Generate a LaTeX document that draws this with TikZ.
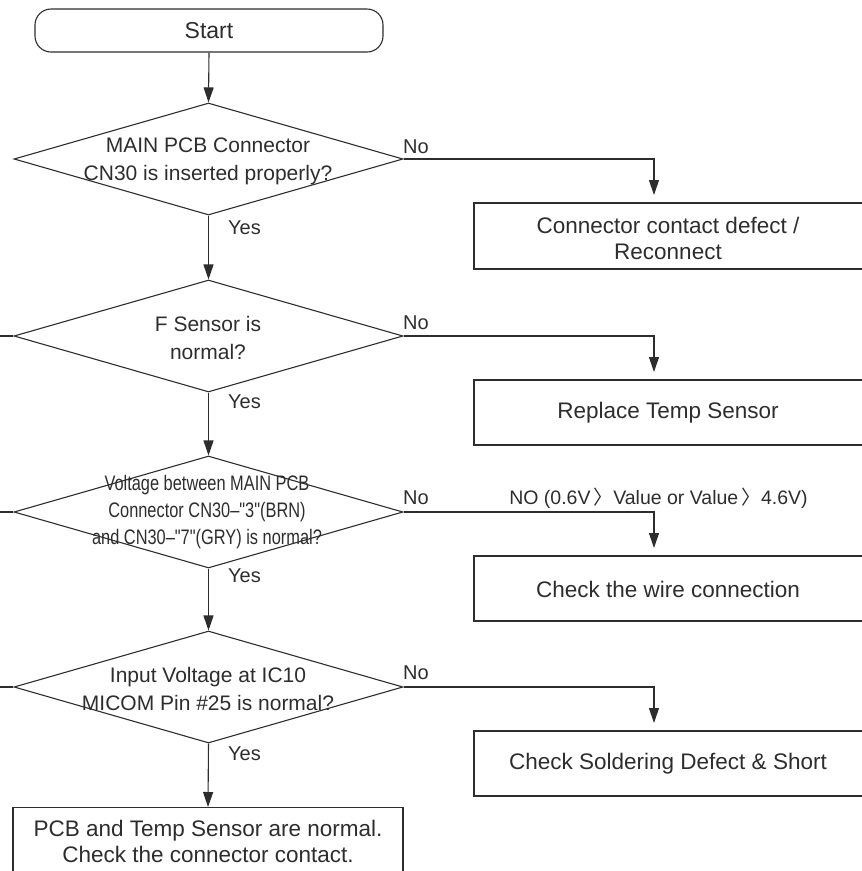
\documentclass[tikz,border=0pt]{standalone}
\usepackage{fontspec}
\setmainfont{Liberation Sans}
\newfontfamily\condfont[FakeStretch=0.78]{Liberation Sans}
\newfontfamily\cjkfont{Noto Sans CJK KR}
\usetikzlibrary{shapes.geometric,arrows.meta}
\definecolor{ink}{RGB}{45,45,45}
\begin{document}
\begin{tikzpicture}[x=1pt,y=-1pt,
  ln/.style={draw=ink, line width=1.1pt},
  arr/.style={ln, -{Triangle[length=15pt,width=10pt]}},
  dia/.style={diamond, draw=ink, line width=1.1pt, minimum width=389pt, minimum height=112pt, inner sep=0pt},
  proc/.style={rectangle, draw=ink, line width=1.1pt, inner sep=0pt},
  startbox/.style={rectangle, rounded corners=16pt, draw=ink, line width=1.1pt, minimum width=348pt, minimum height=43pt, text=ink, font=\fontsize{23}{27}\selectfont},
  txt/.style={text=ink, font=\fontsize{21}{28}\selectfont, align=center, inner sep=0pt},
  ctxt/.style={text=ink, font=\condfont\fontsize{21}{27}\selectfont, align=center, inner sep=0pt},
  btxt/.style={text=ink, font=\fontsize{22.5}{26}\selectfont, align=center, inner sep=0pt},
  lbl/.style={text=ink, font=\fontsize{20}{24}\selectfont, inner sep=0pt, anchor=west}
]
\useasboundingbox (0,0) rectangle (862,871);
\clip (0,0) rectangle (862,871);

% main column
\node[startbox] (start) at (209,30.5) {Start};
\node[dia] (d1) at (208.5,159) {};
\node[dia] (d2) at (208.5,336) {};
\node[dia] (d3) at (208.5,512) {};
\node[dia] (d4) at (208.5,687) {};
\node[proc, minimum width=390pt, minimum height=100pt, anchor=north] (fin) at (208,807) {};

\node[txt] (t1) at (208,161) {MAIN PCB Connector\\CN30 is inserted properly?};
\node[txt] (t2) at (208,337.5) {F Sensor is\\normal?};
\node[ctxt] (t3) at (207,512) {Voltage between MAIN PCB\\Connector CN30–"3"(BRN)\\and CN30–"7"(GRY) is normal?};
\node[txt] (t4) at (208,688.5) {Input Voltage at IC10\\MICOM Pin \#25 is normal?};
\node[btxt] (tf) at (208,841) {PCB and Temp Sensor are normal.\\Check the connector contact.};

% right boxes
\node[proc, minimum width=406pt, minimum height=66pt] (b1) at (677,236) {};
\node[proc, minimum width=406pt, minimum height=65pt] (b2) at (677,412.5) {};
\node[proc, minimum width=406pt, minimum height=65pt] (b3) at (677,588.5) {};
\node[proc, minimum width=406pt, minimum height=65pt] (b4) at (677,763.5) {};
\node[btxt] (bt1) at (668,238) {Connector contact defect /\\Reconnect};
\node[btxt] (bt2) at (668,412.5) {Replace Temp Sensor};
\node[btxt] (bt3) at (668,589) {Check the wire connection};
\node[btxt] (bt4) at (668,764) {Check Soldering Defect \& Short};

% column coordinates for No branches
\coordinate (c1) at (654,203);
\coordinate (c2) at (654,380);
\coordinate (c3) at (654,556);
\coordinate (c4) at (654,731);

% Yes connectors
\draw[arr] (start.south) -- (d1.north);
\draw[arr] (d1.south) -- (d2.north);
\draw[arr] (d2.south) -- (d3.north);
\draw[arr] (d3.south) -- (d4.north);
\draw[arr] (d4.south) -- (fin.north);

% No connectors
\draw[arr, shorten >=8pt] (d1.east) -| (c1);
\draw[arr, shorten >=8pt] (d2.east) -| (c2);
\draw[arr, shorten >=8pt] (d3.east) -| (c3);
\draw[arr, shorten >=8pt] (d4.east) -| (c4);

% left stubs
\coordinate (s2) at (-5,336);
\coordinate (s3) at (-5,512);
\coordinate (s4) at (-5,687);
\draw[ln] (d2.west) -- (s2);
\draw[ln] (d3.west) -- (s3);
\draw[ln] (d4.west) -- (s4);

% labels
\node[lbl] (y1) at (228,228) {Yes};
\node[lbl] (y2) at (228,402) {Yes};
\node[lbl] (y3) at (228,576) {Yes};
\node[lbl] (y4) at (228,754) {Yes};
\node[lbl] (n1) at (403,147) {No};
\node[lbl] (n2) at (403,323) {No};
\node[lbl] (n3) at (403,498) {No};
\node[lbl] (n4) at (403,673) {No};
\node[text=ink, font=\fontsize{19.5}{24}\selectfont, inner sep=0pt] (nv) at (658.5,498) {NO (0.6V\,{\cjkfont 〉}Value or Value\,{\cjkfont 〉}4.6V)};
\end{tikzpicture}
\end{document}
